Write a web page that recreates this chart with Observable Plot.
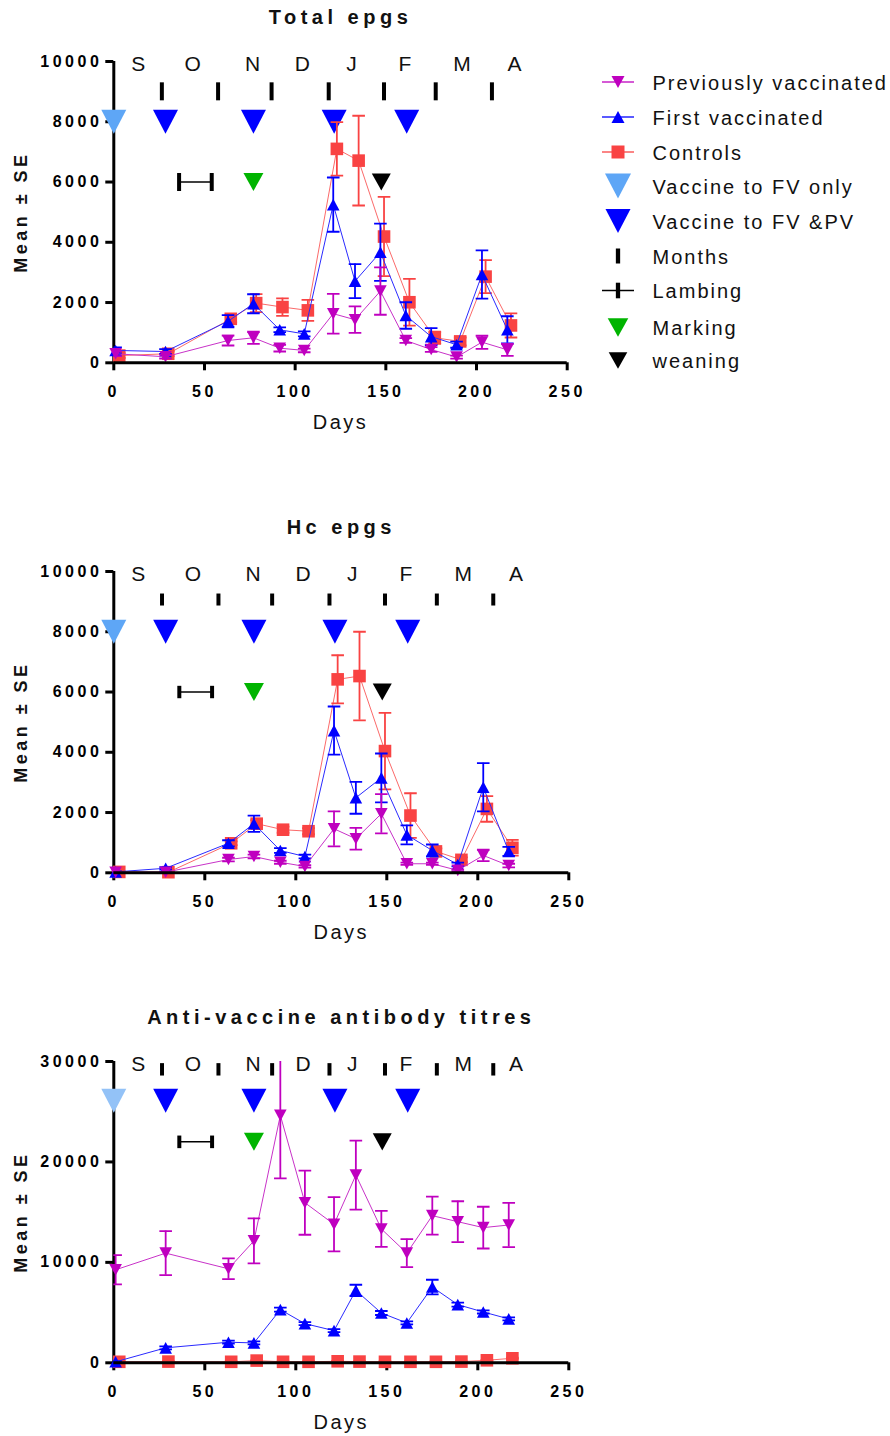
<!DOCTYPE html>
<html>
<head>
<meta charset="utf-8">
<script src="https://cdn.jsdelivr.net/npm/d3@7"></script>
<script src="https://cdn.jsdelivr.net/npm/@observablehq/plot@0.6"></script>
<style>
  html, body { margin: 0; padding: 0; background: #fff; }
  #root { position: relative; width: 890px; height: 1436px; overflow: hidden;
          font-family: "Liberation Sans", Arial, Helvetica, sans-serif; }
  .panel { position: absolute; left: 0; }
  .panel svg { overflow: visible; }
  g[aria-label="x-axis tick label"] text,
  g[aria-label="y-axis tick label"] text { letter-spacing: 3.5px; }
  #legend { position: absolute; left: 590px; top: 60px; }
  #legend text { letter-spacing: 2px; }
</style>
</head>
<body>
<div id="root"></div>
<script>
// ---------------- data ----------------
const sampleDays  = [1, 28.5, 63, 77, 91.5, 105, 121, 133, 147, 161, 175, 189, 203, 217];
const controlDays = [3, 30, 64.5, 78.5, 93, 107, 123, 135, 149, 163, 177, 191, 205, 219];

// Total epgs
const totalPV    = [300, 200, 740, 830, 485, 410, 1630, 1430, 2380, 740, 440, 190, 685, 430];
const totalPVse  = [80, 60, 165, 200, 110, 60, 660, 440, 785, 80, 80, 50, 220, 200];
const totalFV    = [410, 375, 1380, 1960, 1095, 960, 5250, 2710, 3670, 1570, 870, 600, 2930, 1095];
const totalFVse  = [100, 80, 200, 315, 80, 80, 900, 565, 950, 440, 280, 100, 800, 450];
const totalCT    = [240, 300, 1460, 1980, 1850, 1740, 7100, 6710, 4190, 2010, 830, 710, 2860, 1240];
const totalCTse  = [80, 80, 120, 300, 290, 350, 885, 1490, 1315, 775, 200, 130, 550, 400];

// Hc epgs
const hcPV   = [20, 20, 440, 540, 350, 210, 1460, 1130, 1960, 300, 300, 80, 575, 240];
const hcPVse = [10, 10, 60, 60, 50, 40, 580, 360, 650, 40, 40, 30, 190, 60];
const hcFV   = [30, 150, 980, 1630, 740, 540, 4720, 2490, 3150, 1260, 740, 275, 2840, 710];
const hcFVse = [20, 40, 100, 270, 80, 60, 800, 530, 810, 315, 200, 60, 800, 150];
const hcCT   = [30, 20, 980, 1630, 1430, 1380, 6420, 6530, 4040, 1900, 710, 430, 2120, 830];
const hcCTse = [20, 20, 60, 120, 100, 100, 800, 1470, 1270, 740, 100, 80, 425, 260];

// Anti-vaccine antibody titres
const abPV   = [9260, 10920, 9360, 12140, 24640, 15940, 13790, 18690, 13330, 10920, 14650, 14050, 13460, 13720];
const abPVse = [1460, 2200, 1030, 2250, 6280, 3190, 2700, 3440, 1790, 1390, 1890, 2035, 2080, 2200];
const abFV   = [100, 1490, 2050, 1980, 5290, 3900, 3200, 7210, 4960, 3970, 7540, 5790, 5060, 4370];
const abFVse = [50, 150, 150, 150, 200, 150, 150, 560, 200, 150, 730, 200, 150, 150];
const abCT   = [100, 120, 100, 220, 100, 100, 150, 120, 100, 100, 100, 120, 250, 450];
const abCTse = [30, 30, 30, 50, 30, 30, 40, 30, 30, 30, 30, 30, 50, 60];

// annotations
const monthLetters      = ["S", "O", "N", "D", "J", "F", "M", "A"];
const monthLetterDays   = [13.5, 43.5, 76.5, 104, 131, 160.5, 192, 221];
const monthStartDays    = [26.5, 57.5, 87, 118.5, 149, 177.5, 208.5];
const vaccineFVOnlyDays = [0];
const vaccineFVPVDays   = [28.5, 77, 121.5, 161.5];
const lambingDays       = [36, 54];
const markingDays       = [77];
const weaningDays       = [147.5];
const xTicks            = [0, 50, 100, 150, 200, 250];
const epgTicks          = [0, 2000, 4000, 6000, 8000, 10000];
const titreTicks        = [0, 10000, 20000, 30000];

const legendLabels = ["Previously vaccinated", "First vaccinated", "Controls",
  "Vaccine to FV only", "Vaccine to FV &PV", "Months", "Lambing", "Marking", "weaning"];

// ---------------- styles ----------------
const C = {
  pv: "#bf00bf", pvLine: "#c832c8",
  fv: "#0000ff", fvLine: "#2a2aff",
  ct: "#f94343", ctLine: "#fb6a6a",
  light: "#5ea6f6", light3: "#93c2f7",
  dark: "#0000ff", green: "#00b400", black: "#000"
};
const FONT = '"Liberation Sans", Arial, Helvetica, sans-serif';

// custom symbols (r = half width)
function rOf(size) { return Math.sqrt(size / Math.PI); }
const triDown = (k) => ({draw(ctx, size) { const r = rOf(size), h = r * k;
  ctx.moveTo(-r, -h); ctx.lineTo(r, -h); ctx.lineTo(0, h); ctx.closePath(); }});
const triUp = (k) => ({draw(ctx, size) { const r = rOf(size), h = r * k;
  ctx.moveTo(-r, h); ctx.lineTo(r, h); ctx.lineTo(0, -h); ctx.closePath(); }});
const squareSym = {draw(ctx, size) { const r = rOf(size); ctx.rect(-r, -r, 2 * r, 2 * r); }};
const hcap = {draw(ctx, size) { const r = rOf(size); ctx.moveTo(-r, 0); ctx.lineTo(r, 0); }};
const vbar = {draw(ctx, size) { const r = rOf(size); ctx.moveTo(0, -r); ctx.lineTo(0, r); }};

function seriesMarks(xs, ys, ses, color, lineColor, symbol) {
  const data = ys.map((y, i) => ({x: xs[i], y, lo: y - ses[i], hi: y + ses[i]}));
  return [
    Plot.line(data, {x: "x", y: "y", stroke: lineColor, strokeWidth: 1}),
    Plot.ruleX(data, {x: "x", y1: "lo", y2: "hi", stroke: color, strokeWidth: 1.8, clip: true}),
    Plot.dot(data, {x: "x", y: "lo", symbol: hcap, r: 6.3, stroke: color, fill: "none", strokeWidth: 1.8, clip: true}),
    Plot.dot(data, {x: "x", y: "hi", symbol: hcap, r: 6.3, stroke: color, fill: "none", strokeWidth: 1.8, clip: true}),
    Plot.dot(data, {x: "x", y: "y", symbol, r: 6.3, fill: color, stroke: "none"})
  ];
}

const panels = [
  {title: "Total epgs", top: 0, height: 440, marginTop: 61, marginRight: 33.3, yMax: 10000, yTicks: epgTicks,
   pv: totalPV, pvse: totalPVse, fv: totalFV, fvse: totalFVse, ct: totalCT, ctse: totalCTse,
   letterY: 9900, monthTickY: 9010, monthTickR: 9, vaccineY: 8000, eventY: 6000, lambR: 9, light: C.light},
  {title: "Hc epgs", top: 500, height: 440, marginTop: 71, marginRight: 31.7, yMax: 10000, yTicks: epgTicks,
   pv: hcPV, pvse: hcPVse, fv: hcFV, fvse: hcFVse, ct: hcCT, ctse: hcCTse,
   letterY: 9900, monthTickY: 9070, monthTickR: 6, vaccineY: 8000, eventY: 6000, lambR: 6.2, light: C.light},
  {title: "Anti-vaccine antibody titres", top: 990, height: 446, marginTop: 71, marginRight: 31.7, yMax: 30000, yTicks: titreTicks,
   pv: abPV, pvse: abPVse, fv: abFV, fvse: abFVse, ct: abCT, ctse: abCTse,
   letterY: 29700, monthTickY: 29220, monthTickR: 6.2, vaccineY: 26100, eventY: 22000, lambR: 6.3, light: C.light3}
];

const root = document.getElementById("root");

for (const p of panels) {
  const lambMid = (lambingDays[0] + lambingDays[1]) / 2;
  const chart = Plot.plot({
    width: 600,
    height: p.height,
    marginLeft: 113.3,
    marginRight: p.marginRight,
    marginTop: p.marginTop,
    marginBottom: p.height - p.marginTop - 301.3,
    x: {domain: [0, 250], label: null},
    y: {domain: [0, p.yMax], label: null},
    style: {fontFamily: FONT, fontSize: "16px", color: "#000", background: "transparent", overflow: "visible"},
    marks: [
      // titles and axis labels
      Plot.text([p.title], {frameAnchor: "top", lineAnchor: "middle", textAnchor: "middle", dy: -44, text: d => d, fontSize: 20, fontWeight: "bold", fill: "#111"}),
      Plot.text(["Days"], {frameAnchor: "bottom", lineAnchor: "middle", textAnchor: "middle", dy: 60, text: d => d, fontSize: 20, fill: "#111"}),
      Plot.text(["Mean ± SE"], {frameAnchor: "left", lineAnchor: "middle", textAnchor: "middle", dx: -93, rotate: -90, text: d => d, fontSize: 18, fontWeight: "bold", fill: "#111"}),
      // axes
      Plot.axisX({ticks: xTicks, tickSize: 8, tickPadding: 14.5, tickFormat: d => String(d), fontSize: 16, fontWeight: "bold", strokeWidth: 3, label: null}),
      Plot.axisY({ticks: p.yTicks, tickSize: 8, tickPadding: 3.5, tickFormat: d => String(d), fontSize: 16, fontWeight: "bold", strokeWidth: 3, label: null}),
      Plot.ruleX([0], {strokeWidth: 3, stroke: "#000"}),
      // month letters and month ticks
      Plot.text(monthLetters, {x: (d, i) => monthLetterDays[i], y: () => p.letterY, text: d => d, fontSize: 21, fill: "#111"}),
      Plot.dot(monthStartDays, {x: d => d, y: () => p.monthTickY, symbol: vbar, r: p.monthTickR, stroke: "#000", strokeWidth: 4, fill: "none"}),
      // vaccinations
      Plot.dot(vaccineFVOnlyDays, {x: d => d, y: () => p.vaccineY, symbol: triDown(0.96), r: 12.5, fill: p.light, stroke: "none"}),
      Plot.dot(vaccineFVPVDays, {x: d => d, y: () => p.vaccineY, symbol: triDown(0.96), r: 12.5, fill: C.dark, stroke: "none"}),
      // lambing / marking / weaning
      Plot.ruleY([lambMid], {x1: () => lambingDays[0], x2: () => lambingDays[1], y: () => p.eventY, stroke: "#000", strokeWidth: 1.5}),
      Plot.dot(lambingDays, {x: d => d, y: () => p.eventY, symbol: vbar, r: p.lambR, stroke: "#000", strokeWidth: 4, fill: "none"}),
      Plot.dot(markingDays, {x: d => d, y: () => p.eventY, symbol: triDown(0.9), r: 10, fill: C.green, stroke: "none"}),
      Plot.dot(weaningDays, {x: d => d, y: () => p.eventY, symbol: triDown(0.9), r: 9.5, fill: C.black, stroke: "none"}),
      // data series
      ...seriesMarks(controlDays, p.ct, p.ctse, C.ct, C.ctLine, squareSym),
      ...seriesMarks(sampleDays, p.fv, p.fvse, C.fv, C.fvLine, triUp(0.92)),
      ...seriesMarks(sampleDays, p.pv, p.pvse, C.pv, C.pvLine, triDown(0.92)),
      Plot.ruleY([0], {strokeWidth: 3, stroke: "#000"})
    ]
  });
  // letter spacing for the title and axis titles
  const spacing = {[p.title]: "4.5px", "Days": "2.5px", "Mean ± SE": "3.5px"};
  d3.select(chart).selectAll("text").each(function () {
    const t = this.textContent;
    if (spacing[t]) this.style.letterSpacing = spacing[t];
  });
  const div = document.createElement("div");
  div.className = "panel";
  div.style.top = p.top + "px";
  div.appendChild(chart);
  root.appendChild(div);
}

// ---------------- legend ----------------
const legendColors = [C.pv, C.fv, C.ct, C.light, C.dark, "#000", "#000", C.green, C.black];
const legendKinds  = ["pv", "fv", "ct", "bigtri", "bigtri", "bar", "lamb", "tri", "tri"];
const legendRowY   = [22, 57, 92, 126, 161, 196, 230.5, 267.5, 300.5];
const legendSizes  = [6.5, 6.5, 6.5, 13, 12.5, 7.5, 7.8, 10.3, 9.3];

const lsvg = d3.select(root).append("svg").attr("id", "legend")
  .attr("width", 300).attr("height", 330)
  .style("font-family", FONT);
const sym = (type, r) => d3.symbol().type(type).size(Math.PI * r * r)();

legendLabels.forEach((label, i) => {
  const g = lsvg.append("g").attr("transform", `translate(28,${legendRowY[i]})`);
  const kind = legendKinds[i], col = legendColors[i], r = legendSizes[i];
  if (kind === "pv" || kind === "fv" || kind === "ct" || kind === "lamb") {
    g.append("line").attr("x1", -16).attr("x2", 16).attr("stroke", col).attr("stroke-width", kind === "lamb" ? 1.5 : 1.3);
  }
  if (kind === "pv") g.append("path").attr("d", sym(triDown(0.92), r)).attr("fill", col);
  if (kind === "fv") g.append("path").attr("d", sym(triUp(0.92), r)).attr("fill", col);
  if (kind === "ct") g.append("path").attr("d", sym(squareSym, r)).attr("fill", col);
  if (kind === "bigtri") g.append("path").attr("d", sym(triDown(0.96), r)).attr("fill", col);
  if (kind === "tri") g.append("path").attr("d", sym(triDown(0.9), r)).attr("fill", col);
  if (kind === "bar" || kind === "lamb") g.append("path").attr("d", sym(vbar, r)).attr("stroke", col).attr("stroke-width", 4.3).attr("fill", "none");
  lsvg.append("text").attr("x", 62.5).attr("y", legendRowY[i] + 7.5)
    .attr("font-size", 20).attr("fill", "#111").text(label);
});
</script>
</body>
</html>
